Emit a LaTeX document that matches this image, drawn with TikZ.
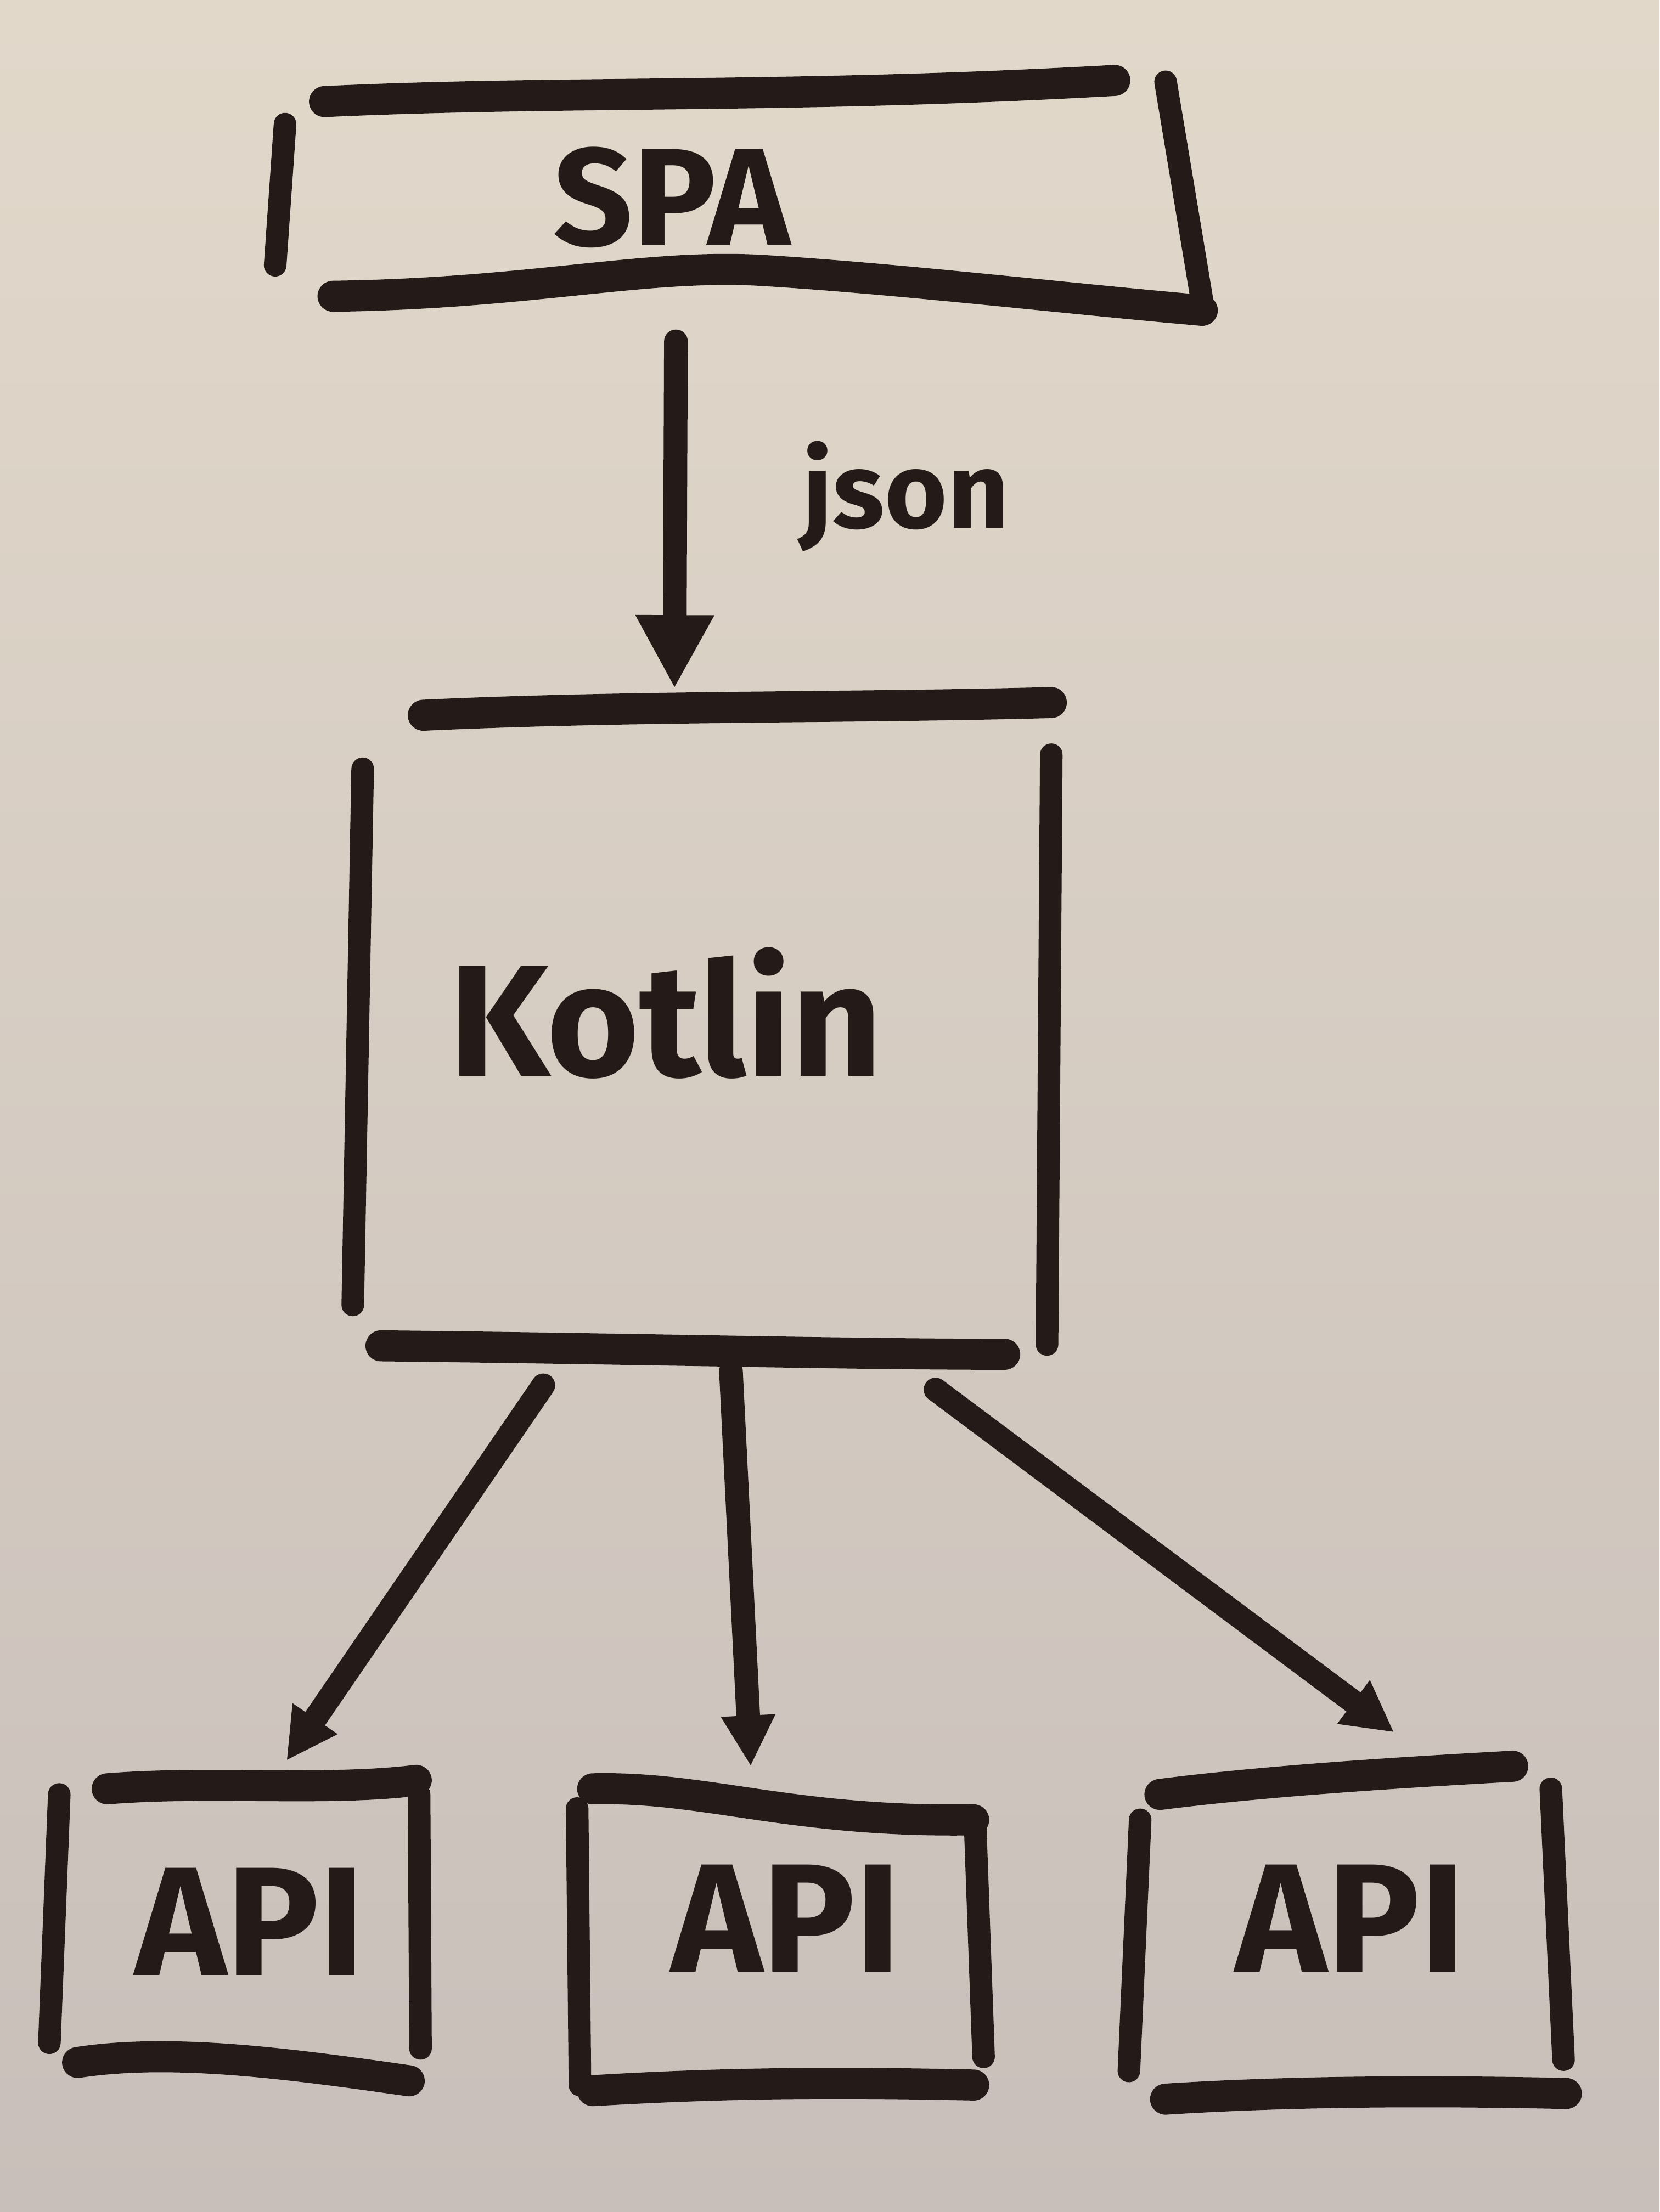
\documentclass[tikz,border=0pt]{standalone}
\usepackage{fontspec}
\setmainfont{Fira Sans}
\usetikzlibrary{arrows.meta}
\definecolor{paperTop}{RGB}{226,216,202}
\definecolor{paperBot}{RGB}{200,191,186}
\definecolor{ink}{RGB}{36,27,24}
\tikzset{
  side/.style={draw=ink, line width=4mm, line cap=round},
  heavy/.style={draw=ink, line width=5.5mm, line cap=round},
  label/.style={text=ink, inner sep=0pt, font=\bfseries},
  bigarr/.style={draw=ink, line width=4.2mm, line cap=round, -{Triangle[width=13mm,length=13mm]}},
  smallarr/.style={draw=ink, line width=4.2mm, line cap=round, -{Triangle[width=9mm,length=9mm]}}
}
\begin{document}
\begin{tikzpicture}[x=0.25mm,y=-0.25mm]
\shade[top color=paperTop, bottom color=paperBot] (0,0) rectangle (1176,1568);
\useasboundingbox (0,0) rectangle (1176,1568);

% SPA box
\draw[heavy] (230,72) .. controls (400,64) and (560,70) .. (790,57);
\draw[side] (202,88) -- (195,188);
\draw[heavy] (236,210) .. controls (380,208) and (460,186) .. (545,192) .. controls (640,198) and (760,212) .. (852,220);
\draw[side] (826,58) -- (853,220);
\node[label, font=\fontsize{70}{70}\selectfont\bfseries] (spa) at (476,140) {SPA};

% json arrow
\coordinate (j1) at (479,242);
\coordinate (j2) at (478,488);
\draw[bigarr] (j1) -- (j2);
\node[label, font=\fontsize{54}{54}\selectfont\bfseries] (json) at (642,352) {json};

% Kotlin box
\draw[heavy] (300,507) .. controls (450,500) and (600,502) .. (745,498);
\draw[side] (257,545) -- (250,925);
\draw[side] (745,535) -- (742,953);
\draw[heavy] (270,954) .. controls (450,956) and (600,960) .. (712,960);
\node[label, font=\fontsize{80}{80}\selectfont\bfseries] (kotlin) at (472,718) {Kotlin};

% arrows to APIs
\coordinate (k1) at (385,982);
\coordinate (k2) at (518,972);
\coordinate (k3) at (663,985);
\coordinate (p1) at (203,1248);
\coordinate (p2) at (532,1252);
\coordinate (p3) at (988,1228);
\draw[smallarr] (k1) -- (p1);
\draw[smallarr] (k2) -- (p2);
\draw[smallarr] (k3) -- (p3);

% API 1
\draw[heavy] (76,1268) .. controls (150,1262) and (230,1270) .. (295,1262);
\draw[side] (42,1272) -- (35,1448);
\draw[side] (297,1272) -- (298,1452);
\draw[heavy] (55,1462) .. controls (120,1452) and (200,1462) .. (290,1475);
\node[label, font=\fontsize{78}{78}\selectfont\bfseries] (api1) at (177,1362) {API};

% API 2
\draw[heavy] (420,1268) .. controls (500,1266) and (560,1292) .. (690,1290);
\draw[side] (409,1282) -- (411,1478);
\draw[side] (691,1292) -- (697,1458);
\draw[heavy] (420,1482) .. controls (520,1476) and (600,1476) .. (690,1478);
\node[label, font=\fontsize{78}{78}\selectfont\bfseries] (api2) at (557,1360) {API};

% API 3
\draw[heavy] (822,1272) .. controls (900,1262) and (1000,1256) .. (1072,1252);
\draw[side] (808,1290) -- (800,1468);
\draw[side] (1099,1268) -- (1108,1460);
\draw[heavy] (826,1488) .. controls (920,1482) and (1020,1482) .. (1110,1484);
\node[label, font=\fontsize{78}{78}\selectfont\bfseries] (api3) at (957,1360) {API};
\end{tikzpicture}
\end{document}
